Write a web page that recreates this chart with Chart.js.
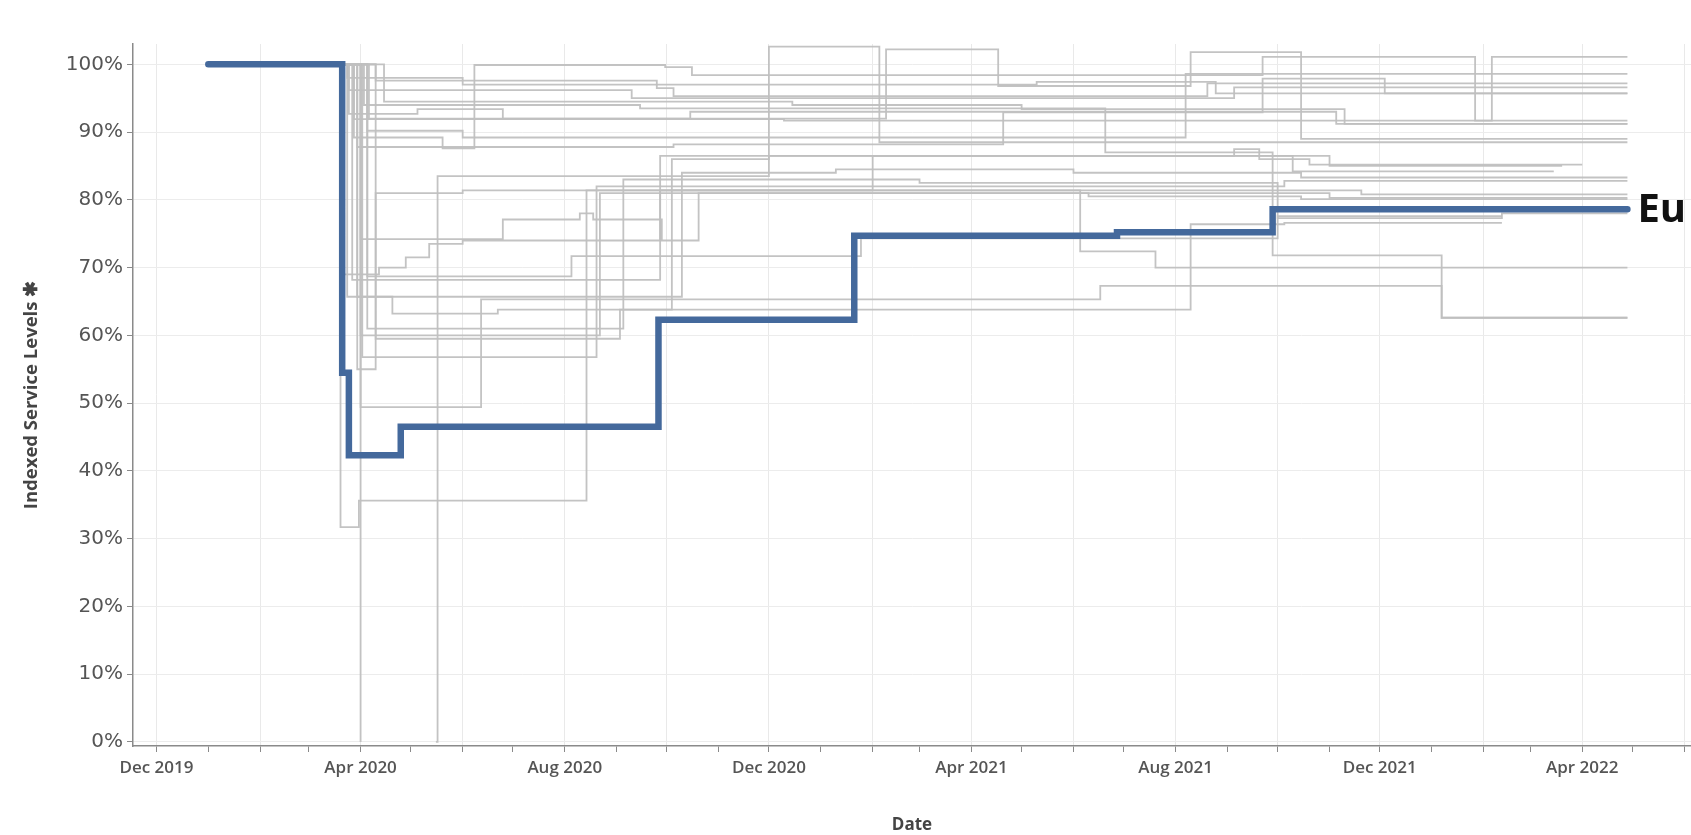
<!DOCTYPE html>
<html lang="en">
<head>
<meta charset="UTF-8">
<title>Indexed Service Levels</title>
<script src="https://cdn.jsdelivr.net/npm/chart.js"></script>
<style>
  html, body { margin: 0; padding: 0; background: #fff; }
  #wrap { width: 1691px; height: 835px; }
</style>
</head>
<body>
<div id="wrap"><canvas id="serviceChart" width="1691" height="835"></canvas></div>
<script>
// highlighted series, [date, indexed level %], value holds until the next date
var euLine = [["2020-01-01",100],["2020-03-21",54.5],["2020-03-25",42.3],["2020-04-25",46.5],["2020-09-26",62.3],
  ["2021-01-21",74.7],["2021-06-27",75.2],["2021-09-28",78.6],["2022-04-28",78.6]];

// the grey lines behind it (null = no service reported)
var line01 = [["2020-03-10",100],["2020-03-20",31.7],["2020-03-31",35.6],["2020-08-14",81.4],["2021-11-20",80.8],["2022-04-28",80.8]];
var line02 = [["2020-03-10",100],["2020-04-01",0],["2020-04-02",null],["2020-05-16",0],["2020-05-17",83.5],["2020-12-01",102.6],
  ["2021-02-05",88.5],["2022-04-28",88.5]];
var line03 = [["2020-03-12",100],["2020-03-30",65.7],["2020-04-20",63.2],["2020-06-22",63.8],["2020-10-04",86],["2020-12-01",86.5],
  ["2021-09-05",87.5],["2021-09-20",86],["2021-10-20",85.2],["2022-04-01",85.2]];
var line04 = [["2020-03-14",100],["2020-04-01",49.4],["2020-06-12",65.3],["2021-06-17",67.3],["2022-01-07",62.6],["2022-04-28",62.6]];
var line05 = [["2020-03-15",100],["2020-04-10",59.5],["2020-09-03",63.8],["2021-08-10",76.4],["2021-10-05",76.6],["2022-02-12",76.6]];
var line06 = [["2020-03-16",100],["2020-04-02",56.8],["2020-08-20",82],["2021-10-05",82.8],["2022-04-28",82.8]];
var line07 = [["2020-03-16",100],["2020-03-25",96.2],["2020-09-10",95],["2021-09-05",96.6],["2022-04-28",96.6]];
var line08 = [["2020-03-14",100],["2020-04-10",97.6],["2020-09-25",96.5],["2020-10-05",95.3],["2021-08-20",97.2],["2022-04-28",97.2]];
var line09 = [["2020-03-14",100],["2020-03-28",89.2],["2020-05-20",87.6],["2020-06-08",99.9],["2020-09-30",99.6],["2020-10-16",98.4],
  ["2021-09-22",101.1],["2022-01-27",91.7],["2022-02-06",101.1],["2022-04-28",101.1]];
var line10 = [["2020-03-12",100],["2020-03-25",92.7],["2020-05-05",93.4],["2020-06-25",92],["2021-02-09",102.2],["2021-04-17",96.8],
  ["2021-08-10",101.8],["2021-10-15",89],["2022-04-28",89]];
var line11 = [["2020-03-15",100],["2020-04-05",90.2],["2020-06-01",89.2],["2021-08-07",98.6],["2022-04-28",98.6]];
var line12 = [["2020-03-16",100],["2020-04-01",74.2],["2020-06-25",77.1],["2020-08-10",78],["2020-08-18",77.1],["2020-09-28",74],
  ["2020-10-20",81],["2021-11-01",80.3],["2022-04-28",80.3]];
var line13 = [["2020-03-14",100],["2020-03-22",69],["2020-04-12",70],["2020-04-28",71.5],["2020-05-12",73.5],["2020-06-01",74],
  ["2020-09-27",81.4],["2021-06-05",72.4],["2021-07-20",70],["2022-04-28",70]];
var line14 = [["2020-03-16",100],["2020-04-05",68.7],["2020-08-05",71.7],["2021-01-25",74.3],["2021-10-01",77.6],["2022-02-12",77.6]];
var line15 = [["2020-03-13",100],["2020-03-24",65.7],["2020-10-10",84],["2021-01-10",84.5],["2021-06-01",84],["2021-10-15",83.3],["2022-04-28",83.3]];
var line16 = [["2020-03-15",100],["2020-04-01",60],["2020-08-22",81],["2021-06-10",80.5],["2021-10-15",80.1],["2022-04-28",80.1]];
var line17 = [["2020-03-17",100],["2020-03-28",91.9],["2020-12-10",91.7],["2022-04-28",91.7]];
var line18 = [["2020-03-17",100],["2020-04-06",92],["2020-10-15",93],["2021-11-05",91.2],["2022-04-28",91.2]];
var line19 = [["2020-03-18",100],["2020-03-30",87.8],["2020-10-05",88.2],["2021-04-20",92.9],["2021-09-22",97.9],["2021-12-04",95.7],["2022-04-28",95.7]];
var line20 = [["2020-03-12",100],["2020-03-27",68.2],["2020-09-27",86.5],["2021-10-10",84.2],["2022-03-15",84.2]];
var line21 = [["2020-03-10",100],["2020-03-24",98],["2020-06-01",97],["2021-05-10",97.4],["2021-08-25",95.7],["2022-04-28",95.7]];
var line22 = [["2020-03-16",100],["2020-03-30",55],["2020-04-10",81],["2020-06-01",81.4],["2021-02-01",86.5],["2021-11-01",85],["2022-03-20",85]];
var line23 = [["2020-03-14",100],["2020-04-15",94.5],["2020-12-15",94],["2021-05-01",93.4],["2021-11-10",91.2],["2022-04-28",91.2]];
var line24 = [["2020-03-18",100],["2020-04-05",61],["2020-09-05",83],["2021-03-01",82.5],["2021-10-01",77.3],["2022-02-12",78],["2022-04-28",78]];
var line25 = [["2020-03-15",100],["2020-04-03",94],["2020-09-15",93.5],["2021-06-20",87],["2021-09-28",71.8],["2022-01-07",62.6],["2022-04-28",62.6]];

var otherLines = [line01, line02, line03, line04, line05, line06, line07, line08, line09, line10, line11, line12,
  line13, line14, line15, line16, line17, line18, line19, line20, line21, line22, line23, line24, line25];

var yTicks = [0, 10, 20, 30, 40, 50, 60, 70, 80, 90, 100];
var monthNames = ["Jan","Feb","Mar","Apr","May","Jun","Jul","Aug","Sep","Oct","Nov","Dec"];
var labelMonths = [11, 3, 7]; // Dec, Apr, Aug get a label
var xStart = "2019-11-17", xEnd = "2022-06-05";
var euName = "Eu";

function toPoints(arr) {
  return arr.map(function(d) { return { x: Date.parse(d[0]), y: d[1] }; });
}

var datasets = [{
  label: euName,
  data: toPoints(euLine),
  stepped: true,
  borderColor: "#44699c",
  borderWidth: 6.5,
  borderCapStyle: "round",
  pointRadius: 0
}];
otherLines.forEach(function(l, i) {
  datasets.push({
    label: "Other " + (i + 1),
    data: toPoints(l),
    stepped: true,
    borderColor: "rgba(192,192,192,0.95)",
    borderWidth: 1.8,
    pointRadius: 0
  });
});

var endLabel = {
  id: "endLabel",
  afterDatasetsDraw: function(chart) {
    var meta = chart.getDatasetMeta(0);
    var last = meta.data[meta.data.length - 1];
    var c = chart.ctx;
    c.save();
    c.font = "bold 40px 'Open Sans'";
    c.fillStyle = "#111";
    c.textBaseline = "middle";
    c.fillText(euName, last.x + 10, last.y + 1);
    c.restore();
  }
};

var ctx = document.getElementById("serviceChart").getContext("2d");
var chart = new Chart(ctx, {
  type: "line",
  data: { datasets: datasets },
  plugins: [endLabel],
  options: {
    responsive: false,
    animation: false,
    layout: { padding: { top: 44, right: 0, left: 0, bottom: 0 } },
    plugins: { legend: { display: false }, tooltip: { enabled: false } },
    scales: {
      x: {
        type: "linear",
        min: Date.parse(xStart),
        max: Date.parse(xEnd),
        afterBuildTicks: function(scale) {
          var t = [];
          for (var y = 2019, m = 11; y < 2022 || m <= 5; m++) {
            if (m > 11) { m = 0; y++; }
            t.push({ value: Date.UTC(y, m, 1) });
          }
          scale.ticks = t;
        },
        afterFit: function(scale) { scale.height = 89; },
        ticks: {
          autoSkip: false,
          maxRotation: 0,
          padding: 6,
          color: "#555",
          font: { family: "Open Sans", size: 17, weight: "600" },
          callback: function(v) {
            var d = new Date(v);
            return labelMonths.indexOf(d.getUTCMonth()) >= 0 ? monthNames[d.getUTCMonth()] + " " + d.getUTCFullYear() : "";
          }
        },
        grid: {
          color: function(c) {
            if (!c.tick) return "transparent";
            return new Date(c.tick.value).getUTCMonth() % 2 === 1 ? "#e9e9e9" : "transparent";
          },
          tickColor: "#8a8a8a",
          tickLength: 6
        },
        border: { color: "#8a8a8a", width: 1.5 },
        title: {
          display: true,
          text: "Date",
          color: "#444",
          font: { family: "Open Sans", size: 17, weight: "bold" },
          padding: { top: 0, bottom: 0 }
        }
      },
      y: {
        min: -0.6,
        max: 103,
        afterBuildTicks: function(scale) {
          scale.ticks = yTicks.map(function(v) { return { value: v }; });
        },
        afterFit: function(scale) { scale.width = 133; },
        ticks: {
          padding: 4,
          color: "#555",
          font: { family: "DejaVu Sans", size: 20 },
          callback: function(v) { return v + "%"; }
        },
        grid: { color: "#ececec", tickColor: "#8a8a8a", tickLength: 6 },
        border: { color: "#8a8a8a", width: 1.5 },
        title: {
          display: true,
          text: "Indexed Service Levels \u2731",
          color: "#444",
          font: { family: "Open Sans", size: 18.5, weight: "bold" },
          padding: { top: 21, bottom: 0 }
        }
      }
    }
  }
});
</script>
</body>
</html>
